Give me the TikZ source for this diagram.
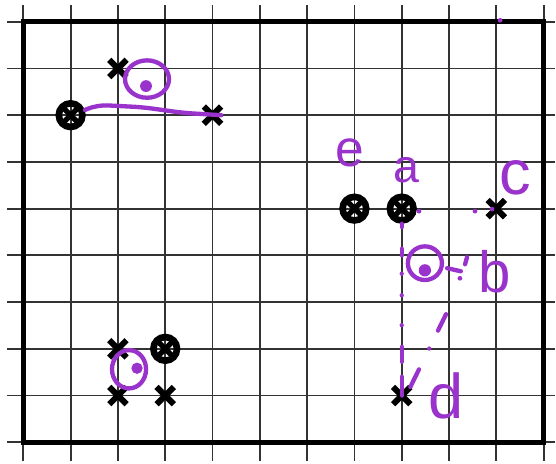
\documentclass[tikz,border=0pt]{standalone}
\usepackage{fontspec}
\setsansfont{Liberation Sans}
\usepackage{xcolor}
\usepackage{tikz}
\usetikzlibrary{shapes.misc, positioning}

\definecolor{ink}{RGB}{153,51,204}

\begin{document}
\begin{tikzpicture}[
  x=1cm, y=0.988cm,
  gridline/.style={line width=1.1pt, draw=black!80},
  frame/.style={line width=3pt, draw=black},
  stone/.style={circle, draw=black, line width=4pt,
    minimum size=0.5cm, inner sep=0pt,
    path picture={
      \draw[line width=3.2pt]
        (path picture bounding box.north west) -- (path picture bounding box.south east)
        (path picture bounding box.north east) -- (path picture bounding box.south west);}},
  xmark/.style={cross out, draw=black, line width=3.6pt,
    minimum size=0.24cm, inner sep=0pt},
  pen/.style={draw=ink, line width=2.6pt, line cap=round},
  spot/.style={circle, fill=ink, inner sep=0pt},
  hand/.style={text=ink, inner sep=0pt, font=\sffamily},
]

\useasboundingbox (-0.493,-0.45) rectangle (11.262,9.465);

% grid
\foreach \i in {0,...,11}{
  \draw[gridline] (\i,-0.39) -- (\i,9.36);
}
\foreach \j in {0,...,9}{
  \draw[gridline] (-0.35,\j) -- (11.25,\j);
}
\draw[frame] (0,0) rectangle (11,9);

% black marks
\node[stone] (sLeft) at (1,7) {};
\node[stone] (sE) at (7,5) {};
\node[stone] (sA) at (8,5) {};
\node[stone] (sLow) at (3,2) {};

\node[xmark] (xTop) at (2,8) {};
\node[xmark] (xLeft) at (4,7) {};
\node[xmark] (xC) at (10,5) {};
\node[xmark] (xD) at (8,1) {};
\node[xmark] (xLowA) at (2,2) {};
\node[xmark] (xLowB) at (2,1) {};
\node[xmark] (xLowC) at (3,1) {};

% purple notes
\draw[pen] (2.615,7.773) ellipse [x radius=0.465, y radius=0.4];
\node[spot, minimum size=0.25cm] (dotTop) at (2.594,7.623) {};
\draw[pen, rounded corners=6pt] (sLeft.20) -- (1.56,7.22) -- (2.53,7.17)
  -- (3.37,7.05) -- (xLeft.east);

\draw[pen] (8.49,3.833) circle (0.36);
\node[spot, minimum size=0.26cm] (dotMid) at (8.49,3.68) {};

\draw[pen] (2.235,1.563) ellipse [x radius=0.36, y radius=0.41];
\node[spot, minimum size=0.24cm] (dotLow) at (2.404,1.585) {};

\draw[pen, dash pattern=on 2pt off 13pt on 4pt off 11pt on 0pt off 13pt
  on 0pt off 18pt on 0pt off 13pt on 9pt off 9pt on 12pt]
  (sA.south) -- (xD.center);
\coordinate (dTop) at (8.937,2.741);
\draw[pen, dash pattern=on 11pt off 12pt on 0pt off 14pt on 14pt]
  (dTop) -- (xD.north east);

\foreach \x/\y in {8.365/4.946, 9.55/4.946, 9.91/4.99, 9.23/3.51, 10.08/9.03}{
  \fill[ink] (\x,\y) circle (0.05);
}
\draw[pen] (8.96,3.726) -- (9.25,3.66);
\draw[pen] (9.38,3.96) -- (9.34,3.81);

\node[hand, font=\sffamily\fontsize{31}{31}\selectfont] (lblE) at (6.91,6.19) {e};
\node[hand, font=\sffamily\fontsize{28}{28}\selectfont] (lblA) at (8.11,5.82) {a};
\node[hand, font=\sffamily\fontsize{38}{38}\selectfont] (lblC) at (10.4,5.65) {c};
\node[hand, font=\sffamily\fontsize{35}{35}\selectfont] (lblB) at (9.97,3.66) {b};
\node[hand, font=\sffamily\fontsize{38}{38}\selectfont] (lblD) at (8.94,1.0) {d};

\end{tikzpicture}
\end{document}
